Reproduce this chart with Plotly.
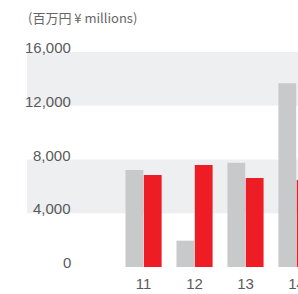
import plotly.graph_objects as go

categories = [11, 12, 13, 14]
cat_labels = ["11", "12", "13", "14"]
series_gray = [7220, 1960, 7750, 13680]
series_red = [6850, 7600, 6630, 6480]
y_ticks = [0, 4000, 8000, 12000, 16000]
y_tick_labels = ["0", "4,000", "8,000", "12,000", "16,000"]
bands = [(4000, 8000), (12000, 16000)]
unit_label = "(百万円 ¥ millions)"

W, H = 298, 294
ML, MR, MT, MB = 27, 0, 52, 27
pw = W - ML - MR

fig = go.Figure()
fig.add_trace(go.Bar(x=categories, y=series_gray, marker=dict(color="#c8c9cb", line=dict(width=0)), name="a"))
fig.add_trace(go.Bar(x=categories, y=series_red, marker=dict(color="#ee1c25", line=dict(width=0)), name="b"))

for y0, y1 in bands:
    fig.add_shape(type="rect", xref="paper", yref="y", x0=0, x1=1, y0=y0, y1=y1,
                  fillcolor="#eeeff1", line=dict(width=0), layer="below")

label_x = (73 - ML) / pw
for v, t in zip(y_ticks, y_tick_labels):
    fig.add_annotation(x=label_x, xref="paper", y=v, yref="y", text=t, showarrow=False,
                       xanchor="right", yanchor="middle", yshift=4.5,
                       font=dict(family="Liberation Sans, Arial", size=15, color="#5a5a5a"))

fig.add_annotation(x=(82.5 - ML) / pw, xref="paper", y=1, yref="paper", yshift=35, text=unit_label,
                   showarrow=False, xanchor="center", yanchor="middle",
                   font=dict(family="Noto Sans CJK JP, Liberation Sans", size=13, color="#666666"))

fig.update_layout(
    width=W, height=H,
    margin=dict(l=ML, r=MR, t=MT, b=MB, pad=0, autoexpand=False),
    paper_bgcolor="white", plot_bgcolor="white",
    barmode="group", bargap=0.28, bargroupgap=0.03,
    showlegend=False,
    xaxis=dict(range=[8.713, 14.03], tickvals=categories, ticktext=cat_labels,
               showgrid=False, zeroline=False, showline=False, ticks="",
               ticklabeloverflow="allow", automargin=False, ticklabelstandoff=6,
               tickfont=dict(family="Liberation Sans, Arial", size=15, color="#5a5a5a")),
    yaxis=dict(range=[0, 16000], showgrid=False, zeroline=False, showline=False,
               showticklabels=False, ticks="", automargin=False),
)

fig.write_html("out.html", config={"displayModeBar": False},
               post_script="document.body.style.margin='0';document.body.style.overflow='hidden';")
